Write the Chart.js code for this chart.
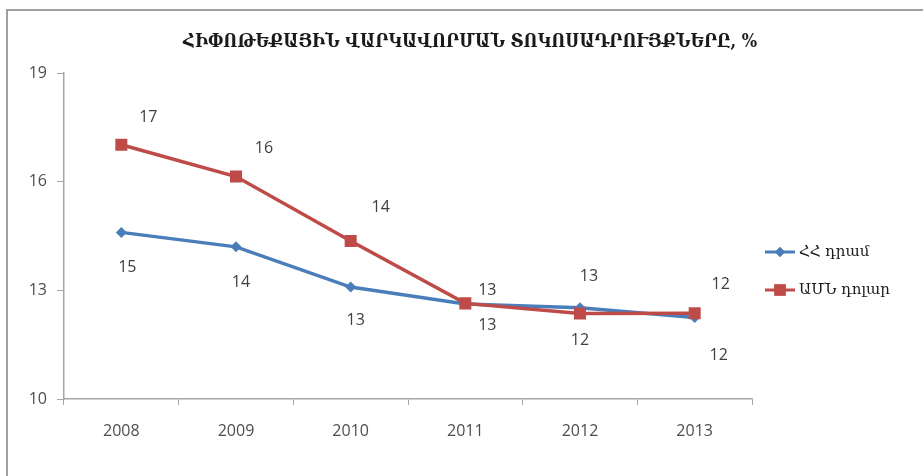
<!DOCTYPE html>
<html>
<head>
<meta charset="utf-8">
<script src="https://cdn.jsdelivr.net/npm/chart.js@4/dist/chart.umd.min.js"></script>
<style>
  html, body { margin: 0; padding: 0; background: #fff; overflow: hidden; }
  #wrap { position: relative; width: 923px; height: 476px; }
  #frame {
    position: absolute; left: 6px; top: 9px; width: 930px; height: 480px;
    border-top: 2px solid #a0a0a0; border-left: 2px solid #a0a0a0;
    box-sizing: border-box; pointer-events: none;
  }
  canvas { position: absolute; left: 0; top: 0; }
</style>
</head>
<body>
<div id="wrap">
  <canvas id="rates" width="923" height="476"></canvas>
  <div id="frame"></div>
</div>
<script>
const years = ["2008", "2009", "2010", "2011", "2012", "2013"];
const amdRates = [14.60, 14.20, 13.09, 12.62, 12.52, 12.25];
const usdRates = [17.02, 16.14, 14.36, 12.64, 12.36, 12.37];
const seriesNames = ["ՀՀ դրամ", "ԱՄՆ դոլար"];
const yTicks = [10, 13, 16, 19];
const titleText = "ՀԻՓՈԹԵՔԱՅԻՆ ՎԱՐԿԱՎՈՐՄԱՆ ՏՈԿՈՍԱԴՐՈՒՅՔՆԵՐԸ, %";

// label placement relative to each point [dx, dy]
const amdLabelOffsets = [[6, 35], [5, 36], [5, 33], [22, 21], [9, -31], [24, 38]];
const usdLabelOffsets = [[27, -27], [28, -28], [30, -34], [22, -13], [0, 27], [26, -29]];

const COLORS = { amd: "#4a7ebb", usd: "#be4b48", axis: "#a6a6a6", text: "#404040" };
const NUM_FONT = "16px 'Open Sans', sans-serif";

const overlay = {
  id: "overlay",
  afterDatasetsDraw(chart) {
    const ctx = chart.ctx;
    ctx.save();
    ctx.fillStyle = COLORS.text;
    ctx.font = NUM_FONT;
    ctx.textAlign = "center";
    ctx.textBaseline = "middle";
    const offs = [amdLabelOffsets, usdLabelOffsets];
    chart.data.datasets.forEach((ds, di) => {
      chart.getDatasetMeta(di).data.forEach((pt, i) => {
        const [dx, dy] = offs[di][i];
        ctx.fillText(String(Math.round(ds.data[i])), pt.x + dx, pt.y + dy);
      });
    });
    ctx.restore();
  },
  afterDraw(chart) {
    const ctx = chart.ctx;
    ctx.save();
    // title, squeezed horizontally like the narrow original face
    ctx.font = "bold 18px 'DejaVu Serif', serif";
    ctx.fillStyle = "#1a1a1a";
    ctx.textBaseline = "middle";
    const w = ctx.measureText(titleText).width;
    const target = 574;
    ctx.translate(183, 42);
    ctx.scale(target / w, 1);
    ctx.fillText(titleText, 0, 0);
    ctx.restore();

    // legend
    ctx.save();
    const items = [
      { name: seriesNames[0], color: COLORS.amd, style: "rectRot", r: 5, y: 252 },
      { name: seriesNames[1], color: COLORS.usd, style: "rect", r: 8, y: 290 },
    ];
    items.forEach(it => {
      ctx.strokeStyle = it.color;
      ctx.lineWidth = 3;
      ctx.beginPath();
      ctx.moveTo(765, it.y);
      ctx.lineTo(795, it.y);
      ctx.stroke();
      ctx.fillStyle = it.color;
      Chart.helpers.drawPoint(ctx, { pointStyle: it.style, radius: it.r, borderWidth: 0 }, 780, it.y);
      ctx.fill();
      ctx.fillStyle = "#1a1a1a";
      ctx.font = "15px 'DejaVu Serif', serif";
      ctx.textBaseline = "middle";
      ctx.fillText(it.name, 799, it.y);
    });
    ctx.restore();
  },
};

new Chart(document.getElementById("rates"), {
  type: "line",
  data: {
    labels: years,
    datasets: [
      {
        label: seriesNames[0], data: amdRates, order: 1,
        borderColor: COLORS.amd, backgroundColor: COLORS.amd, borderWidth: 3.5,
        pointStyle: "rectRot", pointRadius: 5.5, pointBorderWidth: 0, tension: 0,
      },
      {
        label: seriesNames[1], data: usdRates, order: 0,
        borderColor: COLORS.usd, backgroundColor: COLORS.usd, borderWidth: 3.5,
        pointStyle: "rect", pointRadius: 8.5, pointBorderWidth: 0, tension: 0,
      },
    ],
  },
  options: {
    responsive: false,
    animation: false,
    devicePixelRatio: 1,
    layout: { padding: { left: 12, right: 171, top: 73, bottom: 37 } },
    plugins: { legend: { display: false }, title: { display: false }, tooltip: { enabled: false } },
    scales: {
      x: {
        offset: true,
        grid: { offset: true, drawOnChartArea: false, color: COLORS.axis, tickLength: 6 },
        border: { color: COLORS.axis, width: 1.5 },
        ticks: { color: "#4d4d4d", font: { family: "'Open Sans', sans-serif", size: 16 }, padding: 17 },
        afterFit(scale) { scale.height = 40; },
      },
      y: {
        min: 10, max: 19,
        afterBuildTicks(scale) { scale.ticks = yTicks.map(v => ({ value: v })); },
        grid: { drawOnChartArea: false, color: COLORS.axis, tickLength: 7 },
        border: { color: COLORS.axis, width: 1.5 },
        ticks: { color: "#4d4d4d", font: { family: "'Open Sans', sans-serif", size: 16 }, padding: 10 },
        afterFit(scale) { scale.width = 52; },
      },
    },
  },
  plugins: [overlay],
});
</script>
</body>
</html>
